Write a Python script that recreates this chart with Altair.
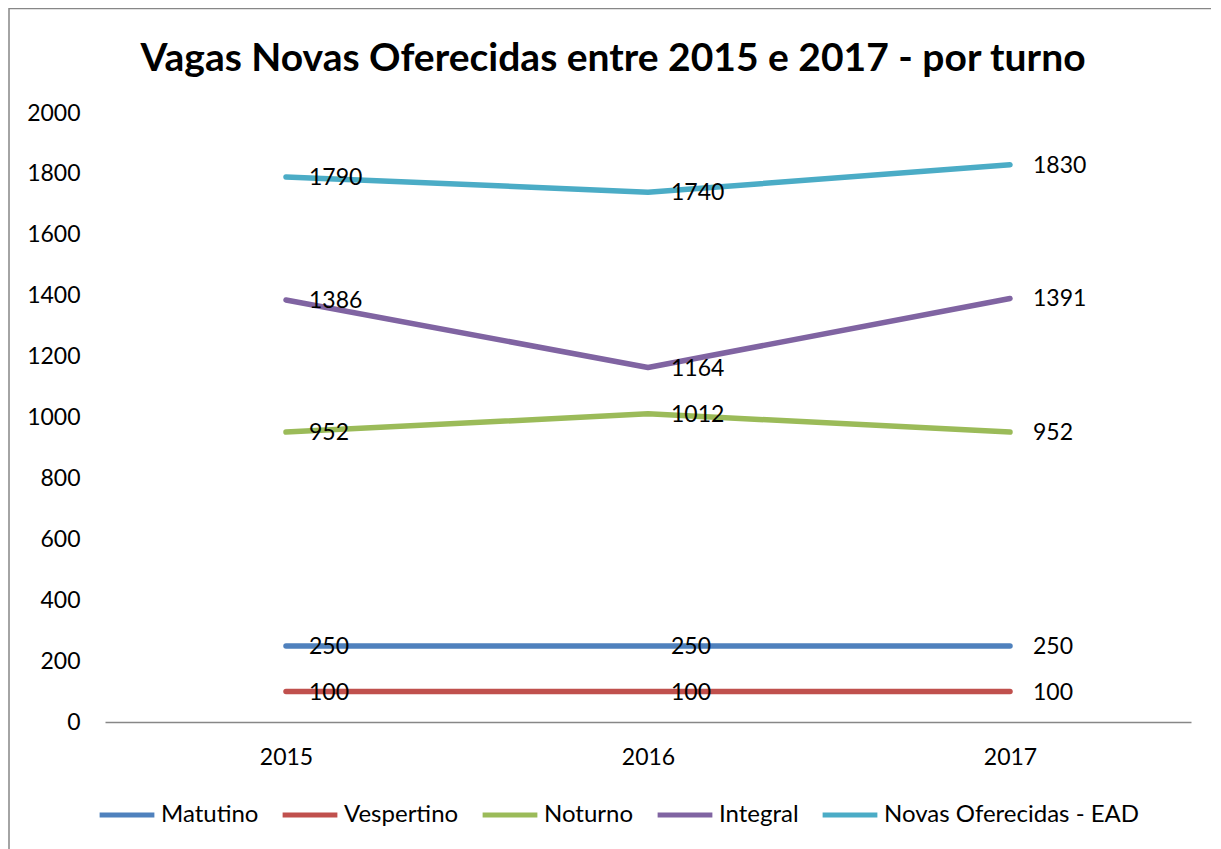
import altair as alt
import pandas as pd

years = ["2015", "2016", "2017"]
series_names = ["Matutino", "Vespertino", "Noturno", "Integral", "Novas Oferecidas - EAD"]
matutino = [250, 250, 250]
vespertino = [100, 100, 100]
noturno = [952, 1012, 952]
integral = [1386, 1164, 1391]
ead = [1790, 1740, 1830]
colors = ["#4F81BD", "#C0504D", "#9BBB59", "#8064A2", "#4BACC6"]
y_ticks = list(range(0, 2001, 200))

rows = []
for name, vals in zip(series_names, [matutino, vespertino, noturno, integral, ead]):
    for yr, v in zip(years, vals):
        rows.append({"Ano": yr, "Turno": name, "Vagas": v})
df = pd.DataFrame(rows)

FONT = "Lato"

x_enc = alt.X("Ano:O", scale=alt.Scale(type="point", padding=0.5),
              axis=alt.Axis(title=None, labelAngle=0, ticks=False, domainColor="#878787",
                            domainWidth=1.5, labelPadding=35, labelBaseline="middle",
                            labelFontSize=23, labelColor="black", labelFont=FONT))
y_enc = alt.Y("Vagas:Q", scale=alt.Scale(domain=[0, 2000], nice=False),
              axis=alt.Axis(title=None, values=y_ticks, grid=False, domain=False, ticks=False,
                            format="d", labelPadding=25, labelFontSize=23,
                            labelColor="black", labelFont=FONT))
color_enc = alt.Color("Turno:N", scale=alt.Scale(domain=series_names, range=colors),
                      legend=alt.Legend(title=None, orient="none", direction="horizontal",
                                        legendX=-8, legendY=672, symbolType="stroke",
                                        symbolSize=3000, symbolStrokeWidth=5,
                                        labelFontSize=24, labelFont=FONT, labelColor="black",
                                        labelLimit=400, columnPadding=13, labelOffset=4,
                                        columns=5))

base = alt.Chart(df)
lines = base.mark_line(strokeWidth=5.5, strokeCap="round", strokeJoin="round").encode(
    x=x_enc, y=y_enc, color=color_enc, detail="Turno:N")
labels = base.mark_text(align="left", baseline="middle", dx=23, dy=1, fontSize=23,
                        font=FONT, color="black").encode(
    x="Ano:O", y="Vagas:Q", text="Vagas:Q")

frame = alt.Chart(alt.Data(values=[{}])).mark_rect(
    fill=None, stroke="#878787", strokeWidth=1.5).encode(
    x=alt.value(-96), x2=alt.value(1112), y=alt.value(-104.5), y2=alt.value(760))

chart = alt.layer(frame, lines, labels).properties(
    width=1086, height=609,
    background="white",
    title=alt.TitleParams("Vagas Novas Oferecidas entre 2015 e 2017 - por turno",
                          fontSize=39, font=FONT, fontWeight="bold", color="black",
                          anchor="middle", baseline="alphabetic", dx=-35, offset=0, dy=102),
    autosize=alt.AutoSizeParams(type="none"),
    padding={"left": 97, "top": 105, "right": 20, "bottom": 127},
).configure_view(stroke="transparent", strokeWidth=0)

chart.save("out.html", embed_options={"renderer": "svg", "actions": False})
